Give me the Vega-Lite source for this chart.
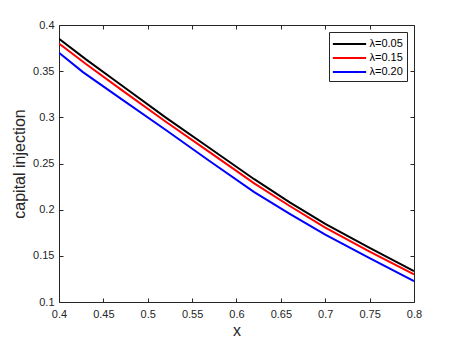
{
  "$schema": "https://vega.github.io/schema/vega-lite/v6.json",
  "width": 355,
  "height": 277,
  "autosize": {"type": "none"},
  "padding": {"left": 59, "top": 25, "right": 44, "bottom": 41},
  "background": "white",
  "config": {
    "view": {"stroke": null},
    "font": "Liberation Sans",
    "axis": {
      "grid": false,
      "domainColor": "#262626",
      "tickColor": "#262626",
      "labelColor": "#262626",
      "titleColor": "#262626",
      "labelFont": "Liberation Sans",
      "titleFont": "Liberation Sans",
      "labelFontSize": 11,
      "titleFontSize": 16,
      "titleFontWeight": "normal",
      "domainWidth": 1,
      "tickWidth": 1
    }
  },
  "data": {
    "values": [
      {"x": 0.40, "y": 0.385, "s": "λ=0.05"},
      {"x": 0.43, "y": 0.363, "s": "λ=0.05"},
      {"x": 0.47, "y": 0.335, "s": "λ=0.05"},
      {"x": 0.52, "y": 0.300, "s": "λ=0.05"},
      {"x": 0.57, "y": 0.2665, "s": "λ=0.05"},
      {"x": 0.62, "y": 0.233, "s": "λ=0.05"},
      {"x": 0.66, "y": 0.208, "s": "λ=0.05"},
      {"x": 0.70, "y": 0.1845, "s": "λ=0.05"},
      {"x": 0.75, "y": 0.1585, "s": "λ=0.05"},
      {"x": 0.80, "y": 0.1335, "s": "λ=0.05"},
      {"x": 0.40, "y": 0.380, "s": "λ=0.15"},
      {"x": 0.43, "y": 0.358, "s": "λ=0.15"},
      {"x": 0.47, "y": 0.330, "s": "λ=0.15"},
      {"x": 0.52, "y": 0.2955, "s": "λ=0.15"},
      {"x": 0.57, "y": 0.262, "s": "λ=0.15"},
      {"x": 0.62, "y": 0.2285, "s": "λ=0.15"},
      {"x": 0.66, "y": 0.204, "s": "λ=0.15"},
      {"x": 0.70, "y": 0.1805, "s": "λ=0.15"},
      {"x": 0.75, "y": 0.1545, "s": "λ=0.15"},
      {"x": 0.80, "y": 0.130, "s": "λ=0.15"},
      {"x": 0.40, "y": 0.370, "s": "λ=0.20"},
      {"x": 0.427, "y": 0.349, "s": "λ=0.20"},
      {"x": 0.47, "y": 0.320, "s": "λ=0.20"},
      {"x": 0.52, "y": 0.2865, "s": "λ=0.20"},
      {"x": 0.57, "y": 0.2525, "s": "λ=0.20"},
      {"x": 0.62, "y": 0.219, "s": "λ=0.20"},
      {"x": 0.66, "y": 0.1955, "s": "λ=0.20"},
      {"x": 0.70, "y": 0.173, "s": "λ=0.20"},
      {"x": 0.75, "y": 0.1475, "s": "λ=0.20"},
      {"x": 0.80, "y": 0.1225, "s": "λ=0.20"}
    ]
  },
  "layer": [
    {
      "mark": {"type": "line", "opacity": 0},
      "encoding": {
        "x": {
          "field": "x", "type": "quantitative",
          "scale": {"domain": [0.4, 0.8], "nice": false, "zero": false},
          "axis": {"orient": "top", "title": null, "labels": false, "ticks": false, "domain": true}
        },
        "y": {
          "field": "y", "type": "quantitative",
          "scale": {"domain": [0.1, 0.4], "nice": false, "zero": false},
          "axis": {"orient": "right", "title": null, "labels": false, "ticks": false, "domain": true}
        },
        "detail": {"field": "s"}
      }
    },
    {
      "mark": {"type": "line", "opacity": 0},
      "encoding": {
        "x": {
          "field": "x", "type": "quantitative",
          "scale": {"domain": [0.4, 0.8], "nice": false, "zero": false},
          "axis": {"orient": "top", "title": null, "labels": false, "domain": false, "offset": -4, "tickSize": 4, "values": [0.4,0.45,0.5,0.55,0.6,0.65,0.7,0.75,0.8]}
        },
        "y": {
          "field": "y", "type": "quantitative",
          "scale": {"domain": [0.1, 0.4], "nice": false, "zero": false},
          "axis": {"orient": "right", "title": null, "labels": false, "domain": false, "offset": -4, "tickSize": 4, "values": [0.1,0.15,0.2,0.25,0.3,0.35,0.4]}
        },
        "detail": {"field": "s"}
      }
    },
    {
      "mark": {"type": "line", "opacity": 0},
      "encoding": {
        "x": {
          "field": "x", "type": "quantitative",
          "scale": {"domain": [0.4, 0.8], "nice": false, "zero": false},
          "axis": {"orient": "bottom", "title": null, "labels": false, "domain": false, "offset": -4, "tickSize": 4, "values": [0.4,0.45,0.5,0.55,0.6,0.65,0.7,0.75,0.8]}
        },
        "y": {
          "field": "y", "type": "quantitative",
          "scale": {"domain": [0.1, 0.4], "nice": false, "zero": false},
          "axis": {"orient": "left", "title": null, "labels": false, "domain": false, "offset": -4, "tickSize": 4, "values": [0.1,0.15,0.2,0.25,0.3,0.35,0.4]}
        },
        "detail": {"field": "s"}
      }
    },
    {
      "mark": {"type": "line", "strokeWidth": 2, "clip": true},
      "encoding": {
        "x": {
          "field": "x", "type": "quantitative",
          "scale": {"domain": [0.4, 0.8], "nice": false, "zero": false},
          "axis": {"orient": "bottom", "title": "x", "ticks": false, "values": [0.4,0.45,0.5,0.55,0.6,0.65,0.7,0.75,0.8], "format": ".2~f", "labelPadding": 6.5, "titlePadding": 3, "labelFlush": false}
        },
        "y": {
          "field": "y", "type": "quantitative",
          "scale": {"domain": [0.1, 0.4], "nice": false, "zero": false},
          "axis": {"orient": "left", "title": "capital injection", "ticks": false, "values": [0.1,0.15,0.2,0.25,0.3,0.35,0.4], "format": ".2~f", "labelPadding": 5, "titlePadding": 5, "labelFlush": false}
        },
        "color": {
          "field": "s", "type": "nominal",
          "scale": {"domain": ["λ=0.05", "λ=0.15", "λ=0.20"], "range": ["#000000", "#ff0000", "#0000ff"]},
          "legend": {
            "title": null,
            "orient": "top-right",
            "offset": 7,
            "symbolType": "M-2.5,0L2.5,0",
            "symbolSize": 177,
            "symbolOffset": 8.5,
            "symbolStrokeWidth": 2,
            "labelFontSize": 11,
            "labelFont": "Liberation Sans",
            "labelColor": "#000000",
            "labelOffset": 12,
            "rowPadding": 1,
            "padding": 4,
            "strokeColor": "#262626",
            "fillColor": "white"
          }
        }
      }
    }
  ],
  "resolve": {"scale": {"x": "independent", "y": "independent"}}
}
